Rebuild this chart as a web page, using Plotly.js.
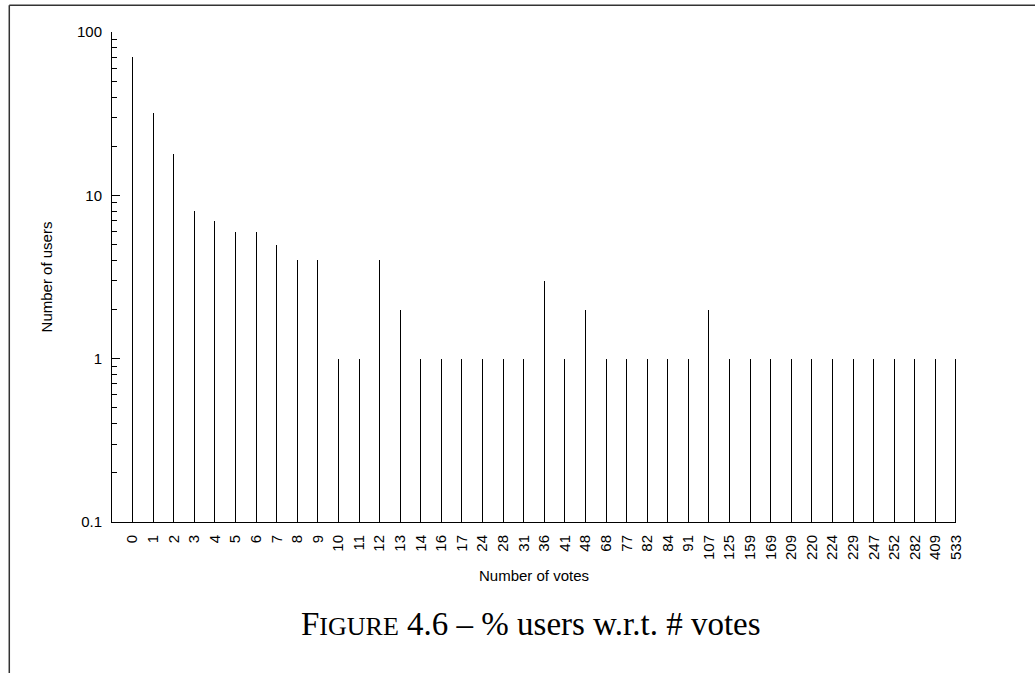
<!DOCTYPE html>
<html>
<head>
<meta charset="utf-8">
<script src="https://cdn.plot.ly/plotly-3.0.1.min.js"></script>
<style>
  html, body { margin: 0; padding: 0; background: #fff; }
  #chart { width: 1035px; height: 673px; }
</style>
</head>
<body>
<div id="chart"></div>
<script>
// Number of votes (category labels on the x axis)
const votes = ["0","1","2","3","4","5","6","7","8","9","10","11","12","13","14","16","17","24","28","31","36","41","48","68","77","82","84","91","107","125","159","169","209","220","224","229","247","252","282","409","533"];
// Number of users having that many votes
const users = [70,32,18,8,7,6,6,5,4,4,1,1,4,2,1,1,1,1,1,1,3,1,2,1,1,1,1,1,2,1,1,1,1,1,1,1,1,1,1,1,1];
// y tick values / labels
const yTickVals = [0.1, 1, 10, 100];
const yTickText = ["0.1", "1", "10", "100"];

const sans = "Liberation Sans, Arial, Helvetica, sans-serif";
const fs = 15;

const trace = {
  type: "bar",
  x: votes,
  y: users,
  width: 0.05,
  marker: { color: "#000", line: { width: 0 } },
  hoverinfo: "x+y"
};

const layout = {
  width: 1035,
  height: 673,
  margin: { l: 112, r: 79, t: 32, b: 151, pad: 0 },
  paper_bgcolor: "#fff",
  plot_bgcolor: "#fff",
  showlegend: false,
  bargap: 0,
  font: { family: sans, size: fs, color: "#000" },
  xaxis: {
    type: "category",
    range: [-1, 40],
    showline: true,
    linecolor: "#000",
    linewidth: 1,
    showgrid: false,
    zeroline: false,
    ticks: "inside",
    ticklen: 7,
    tickcolor: "#000",
    tickangle: -90,
    ticklabelstandoff: 6,
    tickfont: { family: sans, size: fs, color: "#000" },
    title: { text: "Number of votes", font: { family: sans, size: fs, color: "#000" }, standoff: 11 },
    fixedrange: true
  },
  yaxis: {
    type: "log",
    range: [-1, 2],
    showline: true,
    linecolor: "#000",
    linewidth: 1,
    showgrid: false,
    zeroline: false,
    ticks: "inside",
    ticklen: 8,
    tickcolor: "#000",
    tickvals: yTickVals,
    ticktext: yTickText,
    ticklabelstandoff: 6,
    tickfont: { family: sans, size: fs, color: "#000" },
    minor: { ticks: "inside", ticklen: 5, tickcolor: "#000", dtick: "D1", showgrid: false },
    title: { text: "Number of users", font: { family: sans, size: fs, color: "#000" }, standoff: 20 },
    fixedrange: true
  },
  shapes: [
    { type: "line", xref: "paper", yref: "paper", x0: -0.1217, x1: 1.1, y0: 1.0545, y1: 1.0545,
      line: { color: "#333", width: 1.5 } },
    { type: "line", xref: "paper", yref: "paper", x0: -0.1217, x1: -0.1217, y0: 1.0545, y1: -0.33,
      line: { color: "#333", width: 1.5 } }
  ],
  annotations: [
    {
      xref: "paper", yref: "paper", x: 0.497, y: -0.208,
      xanchor: "center", yanchor: "middle", showarrow: false,
      text: 'F<span style="font-size:26px">IGURE</span> 4.6 – % users w.r.t. # votes',
      font: { family: "Liberation Serif, Times New Roman, serif", size: 33, color: "#000" }
    }
  ]
};

Plotly.newPlot("chart", [trace], layout, { displayModeBar: false, staticPlot: true });
</script>
</body>
</html>
